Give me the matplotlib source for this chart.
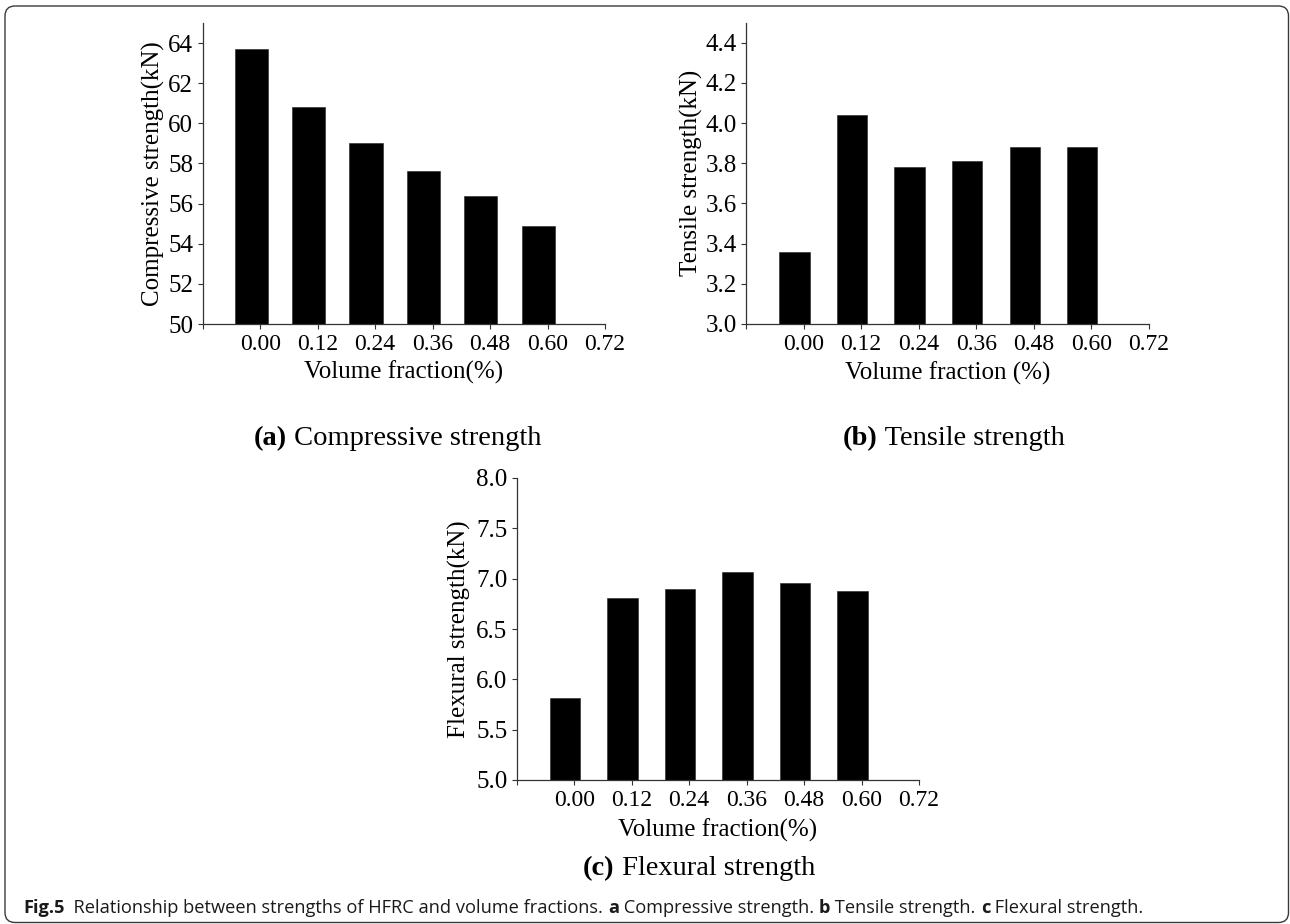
import matplotlib
matplotlib.use('Agg')
import matplotlib.pyplot as plt
from matplotlib.patches import FancyBboxPatch
from matplotlib.transforms import IdentityTransform

plt.rcParams['font.family'] = ['Liberation Serif', 'DejaVu Serif']

W, H = 1290, 924

# data
volume = [0.00, 0.12, 0.24, 0.36, 0.48, 0.60]
tick_positions = [-0.12, 0.00, 0.12, 0.24, 0.36, 0.48, 0.60, 0.72]
tick_labels = ['', '0.00', '0.12', '0.24', '0.36', '0.48', '0.60', '0.72']

compressive = [63.7, 60.8, 59.0, 57.6, 56.4, 54.9]
tensile = [3.36, 4.04, 3.78, 3.81, 3.88, 3.88]
flexural = [5.81, 6.81, 6.90, 7.07, 6.96, 6.88]

comp_yticks = [50, 52, 54, 56, 58, 60, 62, 64]
tens_yticks = [3.0, 3.2, 3.4, 3.6, 3.8, 4.0, 4.2, 4.4]
flex_yticks = [5.0, 5.5, 6.0, 6.5, 7.0, 7.5, 8.0]

caption_parts = [
    ('Fig.5', 'bold'),
    ('  Relationship between strengths of HFRC and volume fractions. ', 'normal'),
    ('a', 'bold'), (' Compressive strength. ', 'normal'),
    ('b', 'bold'), (' Tensile strength. ', 'normal'),
    ('c', 'bold'), (' Flexural strength.', 'normal'),
]

fig = plt.figure(figsize=(W / 100, H / 100), dpi=100)
renderer = fig.canvas.get_renderer()
px = IdentityTransform()


def make_axes(left, top, right, bottom):
    return fig.add_axes([left / W, 1 - bottom / H, (right - left) / W, (bottom - top) / H])


def bar_panel(ax, values, ylim, yticks, yfmt, ylabel, xlabel, bar_w, ylab_x, xlab_y):
    xs = [v - 0.019 for v in volume]
    ax.bar(xs, values, width=bar_w, color='black', edgecolor='#222222', linewidth=0.4)
    ax.set_xlim(-0.12, 0.72)
    ax.set_ylim(*ylim)
    ax.set_xticks(tick_positions)
    ax.set_xticklabels(tick_labels)
    ax.set_yticks(yticks)
    ax.set_yticklabels([yfmt.format(t) for t in yticks])
    for s in ['top', 'right']:
        ax.spines[s].set_visible(False)
    for s in ['left', 'bottom']:
        ax.spines[s].set_color('#333333')
        ax.spines[s].set_linewidth(0.9)
    ax.tick_params(direction='out', length=3.8, width=0.8, color='#333333', pad=3.5)
    ax.tick_params(axis='x', labelsize=17)
    ax.tick_params(axis='y', labelsize=18, pad=3)
    ax.set_xlabel(xlabel, fontsize=18)
    ax.set_ylabel(ylabel, fontsize=18)
    ax.xaxis.set_label_coords(0.5, xlab_y)
    ax.yaxis.set_label_coords(ylab_x, 0.5)
    ax.xaxis.label.set_va('center')
    ax.yaxis.label.set_va('center')


def subcaption(cx, baseline, label, text, size):
    t1 = fig.text(0, H - baseline, label, fontsize=size, fontweight='bold',
                  ha='left', va='baseline', transform=px)
    t2 = fig.text(0, H - baseline, text, fontsize=size,
                  ha='left', va='baseline', transform=px)
    w1 = t1.get_window_extent(renderer).width
    w2 = t2.get_window_extent(renderer).width
    x0 = cx - (w1 + w2) / 2
    t1.set_x(x0)
    t2.set_x(x0 + w1)


ax_a = make_axes(202.7, 23, 605, 324)
bar_panel(ax_a, compressive, (50, 65), comp_yticks, '{:.0f}',
          'Compressive strength(kN)', 'Volume fraction(%)', 0.069, -0.1235, -0.1595)

ax_b = make_axes(746, 22.7, 1149, 324)
bar_panel(ax_b, tensile, (3.0, 4.5), tens_yticks, '{:.1f}',
          'Tensile strength(kN)', 'Volume fraction (%)', 0.063, -0.135, -0.163)

ax_c = make_axes(516.7, 478, 919, 780)
bar_panel(ax_c, flexural, (5.0, 8.0), flex_yticks, '{:.1f}',
          'Flexural strength(kN)', 'Volume fraction(%)', 0.063, -0.1435, -0.166)

subcaption(398, 445, '(a)', ' Compressive strength', 20.5)
subcaption(954, 445, '(b)', ' Tensile strength', 20.5)
subcaption(699, 875, '(c)', ' Flexural strength', 20.5)

# caption line, narrow sans serif, fitted to the width seen in the reference
cap_texts = []
for txt, weight in caption_parts:
    cap_texts.append(fig.text(0, H - 913, txt, fontsize=13, fontweight=weight,
                              family=['Liberation Sans Narrow', 'Open Sans', 'DejaVu Sans'],
                              color='#1a1a1a', ha='left', va='baseline', transform=px))


def place_caption(x_start):
    x = x_start
    for t in cap_texts:
        t.set_x(x)
        x += t.get_window_extent(renderer).width
    return x - x_start


total = place_caption(23)
for t in cap_texts:
    t.set_fontsize(13 * 1117 / total)
place_caption(23)

# rounded frame around the whole figure
frame = FancyBboxPatch((5, 1.5), 1283.5, 916.5, boxstyle='round,pad=0,rounding_size=10',
                       transform=px, fill=False, edgecolor='#3a3a3a', linewidth=1.0)
fig.add_artist(frame)

fig.savefig('out.png', dpi=100)
